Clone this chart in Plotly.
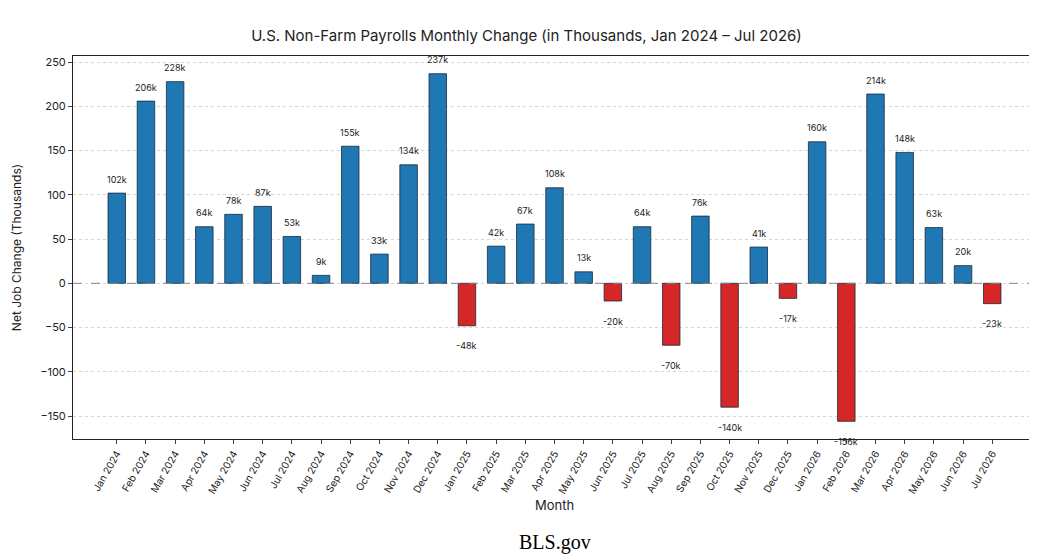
import plotly.graph_objects as go

months = ["Jan 2024", "Feb 2024", "Mar 2024", "Apr 2024", "May 2024", "Jun 2024", "Jul 2024",
          "Aug 2024", "Sep 2024", "Oct 2024", "Nov 2024", "Dec 2024",
          "Jan 2025", "Feb 2025", "Mar 2025", "Apr 2025", "May 2025", "Jun 2025", "Jul 2025",
          "Aug 2025", "Sep 2025", "Oct 2025", "Nov 2025", "Dec 2025",
          "Jan 2026", "Feb 2026", "Mar 2026", "Apr 2026", "May 2026", "Jun 2026", "Jul 2026"]
changes = [102, 206, 228, 64, 78, 87, 53, 9, 155, 33, 134, 237,
           -48, 42, 67, 108, 13, -20, 64, -70, 76, -140, 41, -17,
           160, -156, 214, 148, 63, 20, -23]

colors = ["#1f77b4" if v >= 0 else "#d62728" for v in changes]

fig = go.Figure(go.Bar(
    x=months, y=changes, marker_color=colors,
    marker_line=dict(color="#1a2a3a", width=0.8), width=0.6,
))

# value labels
for m, v in zip(months, changes):
    fig.add_annotation(x=m, y=v, text=f"{v}k", showarrow=False,
                       yshift=14 if v >= 0 else -20,
                       font=dict(size=9, color="#222"))

fig.add_hline(y=0, line=dict(color="#888", width=1, dash="dash"))

fig.add_annotation(text="BLS.gov", xref="paper", yref="paper", x=0.5, y=-0.27,
                   yanchor="middle", showarrow=False,
                   font=dict(family="Liberation Serif", size=20, color="black"))

fig.update_layout(
    width=1037, height=556,
    paper_bgcolor="white", plot_bgcolor="white",
    font=dict(family="Inter", size=11, color="#222"),
    title=dict(text="U.S. Non-Farm Payrolls Monthly Change (in Thousands, Jan 2024 – Jul 2026)",
               x=0.5, xanchor="center", y=0.95, yanchor="middle", font=dict(size=15)),
    margin=dict(l=65, r=9, t=48, b=125),
    showlegend=False,
    bargap=0.4,
)
fig.update_xaxes(title=dict(text="Month", standoff=6), tickangle=-60, tickfont=dict(size=10),
                 showline=True, linecolor="#222", mirror=True, ticks="outside", ticklen=4,
                 range=[-1.5, 31.5])
fig.update_yaxes(title=dict(text="Net Job Change (Thousands)", font=dict(size=12)), range=[-176, 257],
                 tickvals=[-150, -100, -50, 0, 50, 100, 150, 200, 250],
                 ticktext=["−150", "−100", "−50", "0", "50", "100", "150", "200", "250"],
                 showgrid=True, gridcolor="#d5d5d5", gridwidth=1, griddash="dot", zeroline=False,
                 showline=True, linecolor="#222", mirror=True, ticks="outside", ticklen=4)

fig.write_html("out.html")
